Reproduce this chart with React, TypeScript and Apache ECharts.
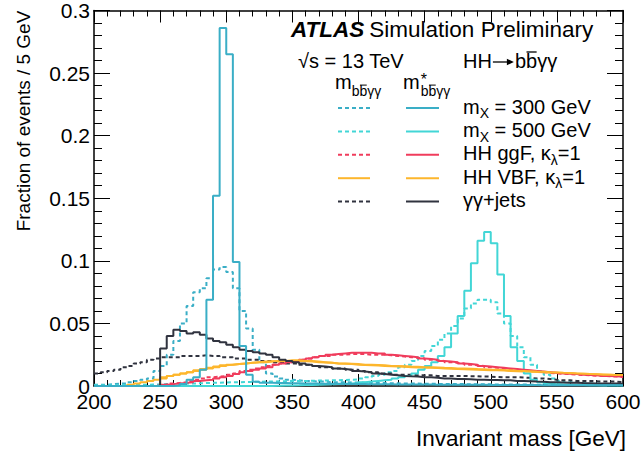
import React, { useEffect, useRef } from 'react';
import * as echarts from 'echarts';

const FONT_FAMILY = '"Liberation Sans", Arial, Helvetica, sans-serif';

// Bin edges (GeV), 5 GeV bins
const BIN_EDGES = [
  200, 205, 210, 215, 220, 225, 230, 235, 240, 245,
  250, 255, 260, 265, 270, 275, 280, 285, 290, 295,
  300, 305, 310, 315, 320, 325, 330, 335, 340, 345,
  350, 355, 360, 365, 370, 375, 380, 385, 390, 395,
  400, 405, 410, 415, 420, 425, 430, 435, 440, 445,
  450, 455, 460, 465, 470, 475, 480, 485, 490, 495,
  500, 505, 510, 515, 520, 525, 530, 535, 540, 545,
  550, 555, 560, 565, 570, 575, 580, 585, 590, 595,
  600,
];

const X_TICKS = [200, 250, 300, 350, 400, 450, 500, 550, 600];
const Y_TICKS = [0, 0.05, 0.1, 0.15, 0.2, 0.25, 0.3];

// m_X = 300 GeV, m_bbyy (dashed)
const mx300 = [
  0.001, 0.001, 0.0015, 0.002, 0.002, 0.003, 0.004, 0.005, 0.006, 0.012,
  0.016, 0.025, 0.036, 0.050, 0.064, 0.075, 0.078, 0.086, 0.093, 0.095,
  0.091, 0.078, 0.060, 0.046, 0.029, 0.019, 0.010, 0.0075, 0.006, 0.005,
  0.0045, 0.004, 0.004, 0.0035, 0.0035, 0.003, 0.003, 0.003, 0.0028, 0.0028,
  0.0026, 0.0025, 0.0024, 0.0023, 0.0022, 0.0021, 0.002, 0.002, 0.0019, 0.0018,
  0.0018, 0.0017, 0.0016, 0.0016, 0.0015, 0.0015, 0.0014, 0.0014, 0.0013, 0.0013,
  0.0012, 0.0012, 0.0012, 0.0011, 0.0011, 0.0011, 0.001, 0.001, 0.001, 0.001,
  0.0009, 0.0009, 0.0009, 0.0008, 0.0008, 0.0008, 0.0007, 0.0007, 0.0007, 0.0006,
];
// m_X = 300 GeV, m*_bbyy (solid)
const mx300Star = [
  0, 0, 0, 0, 0, 0, 0, 0, 0, 0,
  0, 0, 0.0005, 0.0015, 0.005, 0.007, 0.013, 0.069, 0.152, 0.286,
  0.265, 0.099, 0.032, 0.009, 0.0034, 0.0025, 0.0025, 0.0024, 0.0023, 0.0022,
  0.0021, 0.002, 0.002, 0.0019, 0.0018, 0.0018, 0.0017, 0.0016, 0.0016, 0.0015,
  0.0015, 0.0014, 0.0014, 0.0013, 0.0013, 0.0012, 0.0012, 0.0012, 0.0011, 0.0011,
  0.0011, 0.001, 0.001, 0.001, 0.001, 0.0009, 0.0009, 0.0009, 0.0009, 0.0008,
  0.0008, 0.0008, 0.0008, 0.0007, 0.0007, 0.0007, 0.0007, 0.0006, 0.0006, 0.0006,
  0.0006, 0.0006, 0.0005, 0.0005, 0.0005, 0.0005, 0.0005, 0.0005, 0.0005, 0.0005,
];
// m_X = 500 GeV, m_bbyy (dashed)
const mx500 = [
  0.0005, 0.0005, 0.0006, 0.0007, 0.0008, 0.0009, 0.001, 0.001, 0.0012, 0.0013,
  0.0015, 0.0016, 0.0018, 0.002, 0.002, 0.0022, 0.0024, 0.0025, 0.0026, 0.0028,
  0.003, 0.003, 0.0032, 0.0033, 0.0034, 0.0035, 0.0036, 0.0037, 0.0038, 0.004,
  0.004, 0.004, 0.0042, 0.0043, 0.0044, 0.0045, 0.0046, 0.0048, 0.005, 0.0052,
  0.006, 0.007, 0.008, 0.009, 0.011, 0.012, 0.015, 0.017, 0.020, 0.024,
  0.028, 0.032, 0.037, 0.042, 0.048, 0.054, 0.062, 0.066, 0.069, 0.069,
  0.067, 0.058, 0.050, 0.040, 0.031, 0.023, 0.017, 0.012, 0.009, 0.006,
  0.004, 0.003, 0.003, 0.0025, 0.002, 0.002, 0.0015, 0.0015, 0.001, 0.001,
];
// m_X = 500 GeV, m*_bbyy (solid)
const mx500Star = [
  0, 0, 0, 0, 0, 0, 0, 0, 0, 0,
  0, 0, 0, 0, 0, 0, 0, 0, 0, 0,
  0, 0, 0, 0, 0, 0, 0, 0.0002, 0.0003, 0.0004,
  0.0005, 0.0007, 0.0008, 0.001, 0.0012, 0.0014, 0.0016, 0.0018, 0.002, 0.0023,
  0.003, 0.0035, 0.004, 0.0045, 0.005, 0.006, 0.007, 0.008, 0.010, 0.013,
  0.016, 0.019, 0.024, 0.031, 0.042, 0.056, 0.076, 0.098, 0.116, 0.123,
  0.114, 0.089, 0.056, 0.031, 0.020, 0.010, 0.005, 0.003, 0.002, 0.0015,
  0.0012, 0.001, 0.0008, 0.0007, 0.0006, 0.0005, 0.0004, 0.0004, 0.0003, 0.0003,
];
// HH ggF, m_bbyy (dashed)
const ggf = [
  0, 0, 0, 0, 0, 0, 0, 0, 0, 0.0005,
  0.001, 0.002, 0.0025, 0.003, 0.004, 0.005, 0.006, 0.007, 0.0075, 0.008,
  0.009, 0.010, 0.012, 0.013, 0.014, 0.015, 0.016, 0.017, 0.018, 0.019,
  0.020, 0.021, 0.022, 0.023, 0.024, 0.024, 0.025, 0.025, 0.0255, 0.0255,
  0.0255, 0.025, 0.025, 0.025, 0.0245, 0.024, 0.0235, 0.023, 0.0225, 0.022,
  0.021, 0.0205, 0.020, 0.019, 0.0185, 0.018, 0.017, 0.0165, 0.016, 0.015,
  0.0145, 0.014, 0.0135, 0.013, 0.0125, 0.012, 0.0115, 0.011, 0.0105, 0.010,
  0.0098, 0.0095, 0.009, 0.0088, 0.0085, 0.0082, 0.008, 0.0078, 0.0075, 0.0072,
];
// HH ggF, m*_bbyy (solid)
const ggfStar = [
  0, 0, 0, 0, 0, 0, 0, 0, 0, 0,
  0.001, 0.0015, 0.002, 0.0025, 0.003, 0.004, 0.0045, 0.005, 0.006, 0.007,
  0.008, 0.0095, 0.011, 0.012, 0.013, 0.014, 0.015, 0.017, 0.018, 0.019,
  0.020, 0.021, 0.022, 0.023, 0.024, 0.025, 0.0255, 0.026, 0.0265, 0.0265,
  0.0265, 0.0265, 0.026, 0.026, 0.025, 0.0245, 0.024, 0.0235, 0.023, 0.022,
  0.0215, 0.021, 0.020, 0.0195, 0.019, 0.018, 0.0175, 0.017, 0.016, 0.0155,
  0.015, 0.0145, 0.014, 0.0135, 0.013, 0.0125, 0.012, 0.0115, 0.011, 0.0105,
  0.010, 0.0098, 0.0095, 0.009, 0.0088, 0.0085, 0.008, 0.008, 0.0077, 0.0074,
];
// HH VBF, m_bbyy
const vbf = [
  0, 0, 0, 0, 0, 0.001, 0.002, 0.003, 0.004, 0.005,
  0.007, 0.008, 0.009, 0.010, 0.011, 0.0125, 0.0135, 0.0145, 0.0155, 0.0165,
  0.017, 0.0175, 0.018, 0.0185, 0.019, 0.019, 0.0195, 0.0195, 0.0198, 0.020,
  0.020, 0.0198, 0.0195, 0.019, 0.0188, 0.0185, 0.018, 0.0178, 0.0175, 0.017,
  0.0168, 0.0165, 0.0163, 0.016, 0.0158, 0.0155, 0.0153, 0.015, 0.0148, 0.0145,
  0.0145, 0.0143, 0.014, 0.0138, 0.0136, 0.0134, 0.0132, 0.013, 0.0128, 0.0126,
  0.0125, 0.0123, 0.012, 0.0118, 0.0116, 0.0114, 0.0112, 0.011, 0.0108, 0.0106,
  0.0104, 0.0102, 0.010, 0.0098, 0.0096, 0.0094, 0.0092, 0.009, 0.0088, 0.0086,
];
// HH VBF, m*_bbyy
const vbfStar = [
  0, 0, 0, 0, 0, 0, 0, 0, 0, 0,
  0.006, 0.008, 0.009, 0.010, 0.011, 0.012, 0.013, 0.014, 0.015, 0.016,
  0.017, 0.0175, 0.018, 0.0185, 0.019, 0.0195, 0.0198, 0.020, 0.020, 0.0205,
  0.0205, 0.020, 0.020, 0.0195, 0.019, 0.0185, 0.018, 0.018, 0.0178, 0.0175,
  0.017, 0.017, 0.0168, 0.0165, 0.016, 0.016, 0.0158, 0.0155, 0.0153, 0.015,
  0.015, 0.0148, 0.0145, 0.0143, 0.014, 0.014, 0.0138, 0.0135, 0.0133, 0.013,
  0.013, 0.0127, 0.0125, 0.0122, 0.012, 0.0118, 0.0115, 0.0113, 0.011, 0.0108,
  0.0105, 0.0103, 0.010, 0.0098, 0.0095, 0.0093, 0.009, 0.009, 0.0088, 0.0087,
];
// yy+jets, m_bbyy (dashed)
const jets = [
  0.010, 0.011, 0.012, 0.013, 0.015, 0.016, 0.018, 0.019, 0.021, 0.022,
  0.023, 0.023, 0.023, 0.024, 0.024, 0.024, 0.0245, 0.024, 0.024, 0.023,
  0.023, 0.022, 0.022, 0.021, 0.021, 0.020, 0.020, 0.019, 0.019, 0.018,
  0.018, 0.017, 0.017, 0.016, 0.015, 0.015, 0.014, 0.014, 0.013, 0.013,
  0.012, 0.011, 0.011, 0.010, 0.010, 0.009, 0.009, 0.009, 0.0085, 0.0085,
  0.0085, 0.008, 0.008, 0.008, 0.008, 0.008, 0.0078, 0.0078, 0.0075, 0.0075,
  0.0072, 0.007, 0.007, 0.007, 0.0068, 0.0065, 0.006, 0.006, 0.0055, 0.005,
  0.0045, 0.0045, 0.004, 0.004, 0.004, 0.0038, 0.0035, 0.0035, 0.0035, 0.003,
];
// yy+jets, m*_bbyy (solid)
const jetsStar = [
  0, 0, 0, 0, 0, 0, 0, 0, 0, 0,
  0.030, 0.040, 0.045, 0.044, 0.042, 0.043, 0.041, 0.038, 0.036, 0.035,
  0.033, 0.031, 0.029, 0.028, 0.027, 0.026, 0.025, 0.023, 0.021, 0.020,
  0.019, 0.018, 0.017, 0.016, 0.0155, 0.015, 0.014, 0.0135, 0.013, 0.012,
  0.0115, 0.011, 0.010, 0.0095, 0.009, 0.0085, 0.008, 0.0077, 0.0075, 0.007,
  0.007, 0.0065, 0.006, 0.006, 0.0055, 0.0055, 0.0053, 0.005, 0.005, 0.0048,
  0.0047, 0.0045, 0.0045, 0.004, 0.004, 0.0038, 0.0035, 0.0033, 0.003, 0.003,
  0.0028, 0.0025, 0.0025, 0.0023, 0.0022, 0.002, 0.002, 0.002, 0.0019, 0.0018,
];

const C300 = '#3aaec6';
const C500 = '#42d6d6';
const CGGF = '#f03c5c';
const CVBF = '#fdb62c';
const CJETS = '#30333f';

const DASH = [4, 3];

const SERIES_DEFS = [
  { name: 'mX300', values: mx300, color: C300, dashed: true },
  { name: 'mX500', values: mx500, color: C500, dashed: true },
  { name: 'ggF', values: ggf, color: CGGF, dashed: true },
  { name: 'VBF', values: vbf, color: CVBF, dashed: false },
  { name: 'jets', values: jets, color: CJETS, dashed: true },
  { name: 'mX500*', values: mx500Star, color: C500, dashed: false },
  { name: 'ggF*', values: ggfStar, color: CGGF, dashed: false },
  { name: 'VBF*', values: vbfStar, color: CVBF, dashed: false },
  { name: 'jets*', values: jetsStar, color: CJETS, dashed: false },
  { name: 'mX300*', values: mx300Star, color: C300, dashed: false },
];

let measureCtx: CanvasRenderingContext2D | null = null;
function fontStr(size: number, weight = 'normal', style = 'normal') {
  return `${style} ${weight} ${size}px ${FONT_FAMILY}`;
}
function textWidth(text: string, font: string) {
  if (!measureCtx) measureCtx = document.createElement('canvas').getContext('2d');
  if (!measureCtx) return text.length * 10;
  measureCtx.font = font;
  return measureCtx.measureText(text).width;
}

type Seg = { t: string; size: number; dy?: number; weight?: string; style?: string; bar?: boolean; noAdvance?: boolean; gap?: number; arrow?: number };

function runs(x0: number, baseline: number, segs: Seg[]) {
  let x = x0;
  const out: any[] = [];
  for (const s of segs) {
    const base = baseline + (s.dy || 0);
    if (s.arrow) {
      const ya = base - 0.3 * s.size;
      const x1 = x + 1;
      const x2 = x + s.arrow - 1;
      out.push({ type: 'line', silent: true, shape: { x1, y1: ya, x2: x2 - 2, y2: ya }, style: { stroke: '#000', lineWidth: 1.3 } });
      out.push({ type: 'polygon', silent: true, shape: { points: [[x2, ya], [x2 - 7, ya - 3.2], [x2 - 7, ya + 3.2]] }, style: { fill: '#000' } });
      x += s.arrow;
      continue;
    }
    const f = fontStr(s.size, s.weight, s.style);
    out.push({
      type: 'text',
      x,
      y: base - 0.3465 * s.size,
      silent: true,
      style: { text: s.t, font: f, fill: '#000', textAlign: 'left', textVerticalAlign: 'middle', align: 'left', verticalAlign: 'middle' },
    });
    const w = textWidth(s.t, f);
    if (s.bar) {
      const yb = base - 0.8 * s.size;
      out.push({ type: 'line', silent: true, shape: { x1: x + 0.5, y1: yb, x2: x + w - 0.5, y2: yb }, style: { stroke: '#000', lineWidth: s.size > 16 ? 1.3 : 1 } });
    }
    if (!s.noAdvance) x += w + (s.gap || 0);
  }
  return out;
}

function sampleLine(x1: number, x2: number, y: number, color: string, dashed: boolean) {
  return {
    type: 'line',
    silent: true,
    shape: { x1, y1: y, x2, y2: y },
    style: { stroke: color, lineWidth: 2, lineDash: dashed ? DASH : null },
  };
}

function buildGraphic() {
  const g: any[] = [];
  // ATLAS label
  const atlasFont = fontStr(22.5, 'bold', 'italic');
  const atlasW = textWidth('ATLAS', atlasFont);
  g.push(...runs(291, 37.5, [{ t: 'ATLAS', size: 22.5, weight: 'bold', style: 'italic' }]));
  g.push(...runs(291 + atlasW + 5, 37.5, [{ t: 'Simulation Preliminary', size: 22.5 }]));
  g.push(...runs(298, 68, [{ t: '√s = 13 TeV', size: 20 }]));
  g.push(...runs(463, 68, [{ t: 'HH', size: 20 }, { t: '', size: 20, arrow: 23 }, { t: 'b', size: 20 }, { t: 'b', size: 20, bar: true }, { t: 'γγ', size: 20 }]));
  // column headers
  g.push(...runs(335, 89.3, [
    { t: 'm', size: 20 },
    { t: 'b', size: 14, dy: 7 }, { t: 'b', size: 14, dy: 7, bar: true }, { t: 'γγ', size: 14, dy: 7 },
  ]));
  g.push(...runs(403, 89.3, [
    { t: 'm', size: 20, gap: 1 },
    { t: '*', size: 16, dy: -4, noAdvance: true },
    { t: 'b', size: 14, dy: 7 }, { t: 'b', size: 14, dy: 7, bar: true }, { t: 'γγ', size: 14, dy: 7 },
  ]));
  const rows: { segs: Seg[]; color: string; leftDashed: boolean }[] = [
    { segs: [{ t: 'm', size: 20 }, { t: 'X', size: 14, dy: 4.5 }, { t: ' = 300 GeV', size: 20 }], color: C300, leftDashed: true },
    { segs: [{ t: 'm', size: 20 }, { t: 'X', size: 14, dy: 4.5 }, { t: ' = 500 GeV', size: 20 }], color: C500, leftDashed: true },
    { segs: [{ t: 'HH ggF, κ', size: 20 }, { t: 'λ', size: 14, dy: 4.5 }, { t: '=1', size: 20 }], color: CGGF, leftDashed: true },
    { segs: [{ t: 'HH VBF, κ', size: 20 }, { t: 'λ', size: 14, dy: 4.5 }, { t: '=1', size: 20 }], color: CVBF, leftDashed: false },
    { segs: [{ t: 'γγ+jets', size: 20 }], color: CJETS, leftDashed: true },
  ];
  rows.forEach((r, i) => {
    const baseline = 113.5 + i * 23.4;
    const ly = baseline - 5.5;
    g.push(sampleLine(338, 370, ly, r.color, r.leftDashed));
    g.push(sampleLine(406, 439, ly, r.color, false));
    g.push(...runs(463, baseline, r.segs));
  });
  // axis titles
  g.push({
    type: 'text', x: 626, y: 446 - 0.3465 * 22.5, silent: true,
    style: { text: 'Invariant mass [GeV]', font: fontStr(22.5), fill: '#000', textAlign: 'right', textVerticalAlign: 'middle', align: 'right', verticalAlign: 'middle' },
  });
  g.push({
    type: 'text', x: 23, y: 121, rotation: Math.PI / 2, silent: true,
    style: { text: 'Fraction of events / 5 GeV', font: fontStr(19), fill: '#000', textAlign: 'center', textVerticalAlign: 'middle', align: 'center', verticalAlign: 'middle' },
  });
  return g;
}

function fmtY(v: number) {
  return String(Math.round(v * 100) / 100);
}

export default function App() {
  const ref = useRef<HTMLDivElement>(null);
  useEffect(() => {
    if (!ref.current) return;
    const chart = echarts.init(ref.current, null, { renderer: 'svg' });
    const axisLine = { show: true, onZero: false, lineStyle: { color: '#000', width: 1.5 } };
    const xCommon = {
      type: 'value', min: X_TICKS[0], max: X_TICKS[X_TICKS.length - 1], interval: 50,
      axisLine,
      axisTick: { show: true, inside: true, length: 12, lineStyle: { color: '#000', width: 1 } },
      minorTick: { show: true, splitNumber: 5, length: 6, lineStyle: { color: '#000', width: 1 } },
      splitLine: { show: false },
      minorSplitLine: { show: false },
    };
    const yCommon = {
      type: 'value', min: Y_TICKS[0], max: Y_TICKS[Y_TICKS.length - 1], interval: 0.05,
      axisLine,
      axisTick: { show: true, inside: true, length: 16, lineStyle: { color: '#000', width: 1 } },
      minorTick: { show: true, splitNumber: 5, length: 8, lineStyle: { color: '#000', width: 1 } },
      splitLine: { show: false },
      minorSplitLine: { show: false },
    };
    const series = SERIES_DEFS.map((d) => {
      const data = d.values.map((v, i) => [BIN_EDGES[i], v]);
      data.push([BIN_EDGES[BIN_EDGES.length - 1], d.values[d.values.length - 1]]);
      return {
        type: 'line', name: d.name, data, step: 'end', symbol: 'none', silent: true,
        xAxisIndex: 0, yAxisIndex: 0, clip: true,
        lineStyle: { color: d.color, width: 2, type: d.dashed ? DASH : 'solid' },
        itemStyle: { color: d.color },
      };
    });
    chart.setOption({
      animation: false,
      backgroundColor: '#fff',
      textStyle: { fontFamily: FONT_FAMILY },
      grid: { left: 94, right: 21, top: 7, bottom: 71, containLabel: false },
      xAxis: [
        { ...xCommon, position: 'bottom', axisLabel: { show: true, margin: 5, fontSize: 21, color: '#000', fontFamily: FONT_FAMILY } },
        { ...xCommon, position: 'top', axisLabel: { show: false } },
      ],
      yAxis: [
        { ...yCommon, position: 'left', axisLabel: { show: true, margin: 4, fontSize: 21, color: '#000', fontFamily: FONT_FAMILY, formatter: fmtY } },
        { ...yCommon, position: 'right', axisLabel: { show: false } },
      ],
      series,
      graphic: buildGraphic(),
    });
    return () => chart.dispose();
  }, []);
  return <div ref={ref} style={{ position: 'fixed', left: 0, top: 0, width: 644, height: 457, background: '#fff' }} />;
}
